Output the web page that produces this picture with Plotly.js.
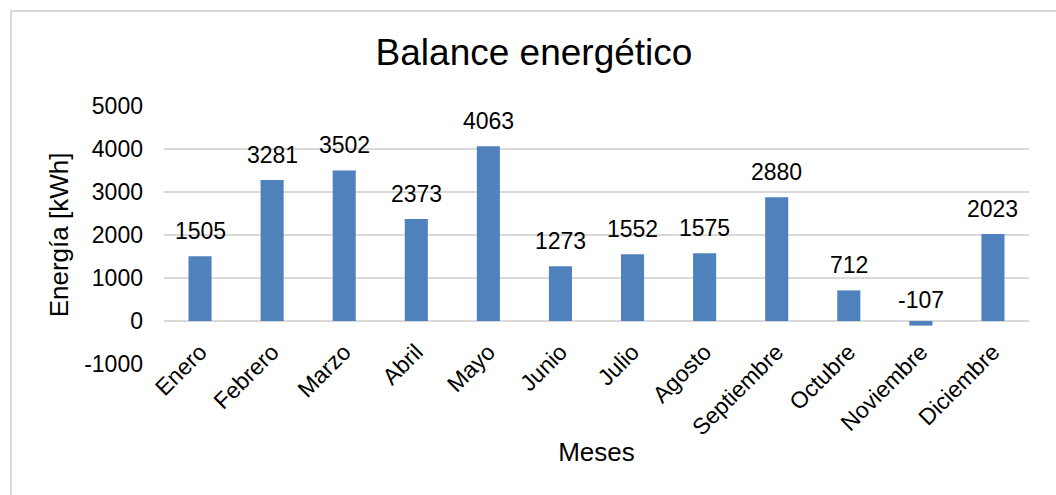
<!DOCTYPE html>
<html>
<head>
<meta charset="utf-8">
<script src="https://cdn.plot.ly/plotly-3.0.1.min.js"></script>
<style>
  html, body { margin: 0; padding: 0; overflow: hidden; background: #ffffff; }
  #chart { position: absolute; left: 0; top: 0; width: 1056px; height: 495px; }
  #frame { position: absolute; left: 10px; top: 10px; width: 1100px; height: 600px;
           border: 2px solid #d9d9d9; pointer-events: none; }
</style>
</head>
<body>
<div id="chart"></div>
<div id="frame"></div>
<script>
// Monthly energy balance (kWh)
const meses = ["Enero", "Febrero", "Marzo", "Abril", "Mayo", "Junio",
               "Julio", "Agosto", "Septiembre", "Octubre", "Noviembre", "Diciembre"];
const balance = [1505, 3281, 3502, 2373, 4063, 1273, 1552, 1575, 2880, 712, -107, 2023];
const yTicks = [-1000, 0, 1000, 2000, 3000, 4000, 5000];

const FONT = "Liberation Sans, Arial, sans-serif";
const yRange = [yTicks[0], yTicks[yTicks.length - 1]];
// category axis sits on the zero line
const zeroPos = (0 - yRange[0]) / (yRange[1] - yRange[0]);

const trace = {
  type: "bar",
  x: meses,
  y: balance,
  marker: { color: "#4f81bd" },
  hoverinfo: "x+y"
};

// value labels above each bar (negative bars get their label above the baseline)
const labels = meses.map((m, i) => ({
  x: m,
  y: Math.max(balance[i], 0),
  text: String(balance[i]),
  showarrow: false,
  yanchor: "bottom",
  yshift: balance[i] < 0 ? 6 : 10,
  font: { family: FONT, size: 23, color: "#000000" }
}));

const layout = {
  width: 1056,
  height: 495,
  margin: { l: 164, r: 27, t: 106, b: 131 },
  paper_bgcolor: "#ffffff",
  plot_bgcolor: "#ffffff",
  showlegend: false,
  bargap: 0.68,
  title: {
    text: "Balance energético",
    font: { family: FONT, size: 37, color: "#000000" },
    xref: "container", x: 534 / 1056, xanchor: "center",
    yref: "container", y: 1 - 52 / 495, yanchor: "middle"
  },
  xaxis: {
    type: "category",
    anchor: "free",
    position: zeroPos,
    showgrid: false,
    showline: false,
    ticks: "",
    tickangle: -45,
    ticklabelstandoff: 12,
    tickfont: { family: FONT, size: 23, color: "#000000" },
    automargin: false,
    title: { text: "Meses", standoff: 3, font: { family: FONT, size: 26, color: "#000000" } }
  },
  yaxis: {
    range: yRange,
    tickvals: yTicks,
    ticktext: yTicks.map(String),
    showgrid: true,
    gridcolor: "#d9d9d9",
    gridwidth: 1.5,
    zeroline: true,
    zerolinecolor: "#d9d9d9",
    zerolinewidth: 1.5,
    showline: false,
    ticks: "",
    ticklabelstandoff: 20,
    tickfont: { family: FONT, size: 23, color: "#000000" },
    automargin: false,
    title: { text: "Energía [kWh]", standoff: 8, font: { family: FONT, size: 26, color: "#000000" } }
  },
  annotations: labels
};

Plotly.newPlot("chart", [trace], layout, { displayModeBar: false, staticPlot: true });
</script>
</body>
</html>
